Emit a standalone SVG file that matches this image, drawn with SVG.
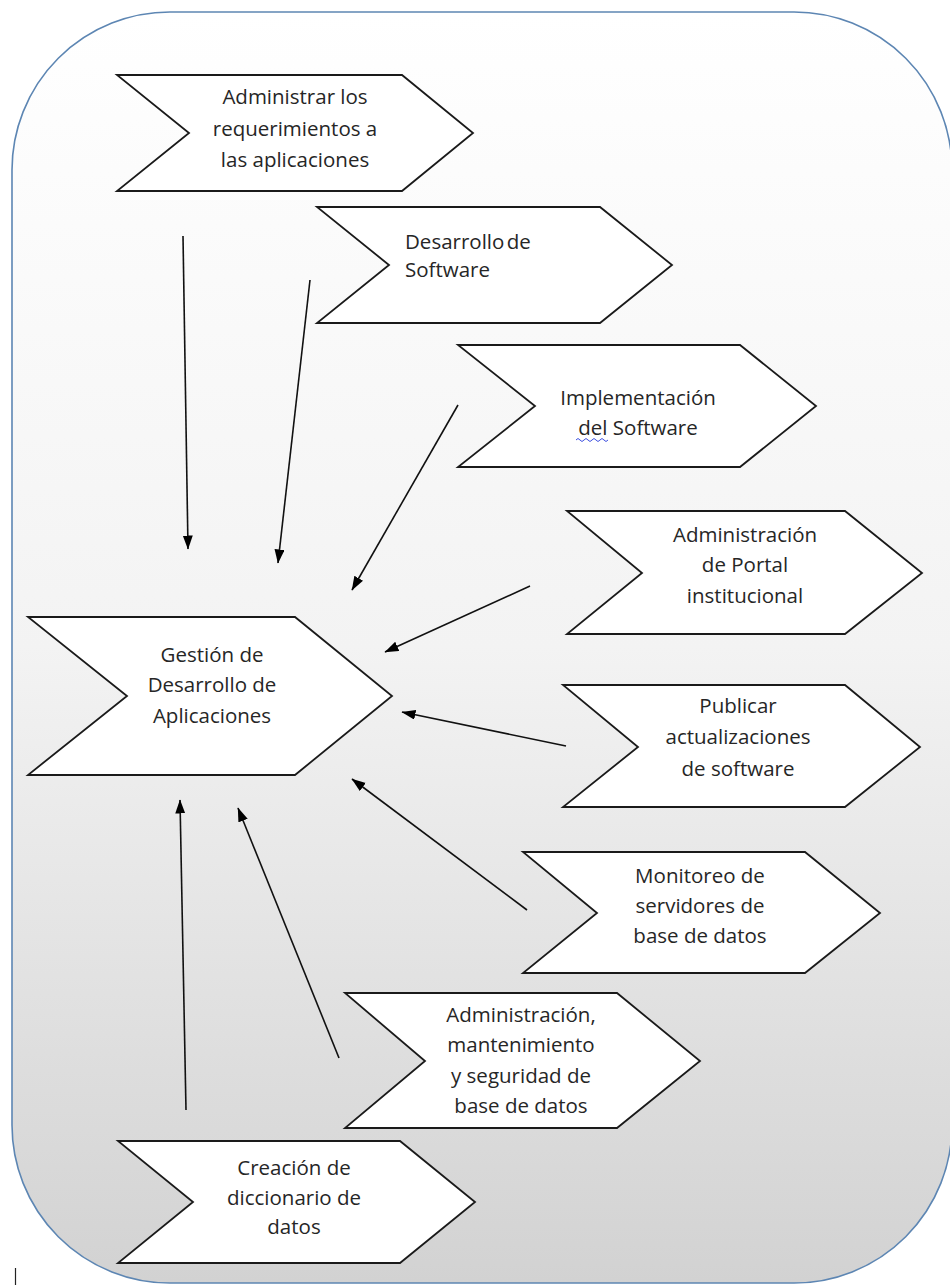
<svg xmlns="http://www.w3.org/2000/svg" width="950" height="1285" viewBox="0 0 950 1285">
  <defs>
    <linearGradient id="panelFill" x1="0" y1="0" x2="0" y2="1">
      <stop offset="0" stop-color="#ffffff"/>
      <stop offset="0.5" stop-color="#f3f3f3"/>
      <stop offset="1" stop-color="#d2d2d2"/>
    </linearGradient>
    <marker id="arrowHead" markerUnits="userSpaceOnUse" markerWidth="15" markerHeight="11" refX="13.5" refY="5" orient="auto">
      <path d="M0,0 L14,5 L0,10 z" fill="#000"/>
    </marker>
  </defs>
  <style>
    .chev { fill: #ffffff; stroke: #1a1a1a; stroke-width: 1.8; stroke-linejoin: miter; }
    .lbl { font-family: "Open Sans", "Liberation Sans", sans-serif; font-size: 20.5px; fill: #262626; text-anchor: middle; }
    .left { text-anchor: start; }
    .conn line { stroke: #111; stroke-width: 1.6; marker-end: url(#arrowHead); }
  </style>

  <!-- background panel -->
  <rect x="12" y="12" width="940" height="1271" rx="158" ry="158" fill="url(#panelFill)" stroke="#5d86b3" stroke-width="1.6"/>

  <!-- connectors -->
  <g id="connectors" class="conn">
    <line x1="183" y1="236" x2="188" y2="549"/>
    <line x1="310" y1="280" x2="278" y2="563"/>
    <line x1="458" y1="405" x2="352" y2="590"/>
    <line x1="530" y1="586" x2="385" y2="652"/>
    <line x1="566" y1="746" x2="402" y2="712"/>
    <line x1="527" y1="910" x2="352" y2="779"/>
    <line x1="339" y1="1058" x2="238" y2="808"/>
    <line x1="186" y1="1110" x2="180" y2="800"/>
  </g>

  <!-- nodes -->
  <g id="n-requerimientos">
    <polygon class="chev" points="117,75 402,75 473,133 402,191 117,191 189,133"/>
    <text class="lbl" x="295" y="104">Administrar los</text>
    <text class="lbl" x="295" y="136">requerimientos a</text>
    <text class="lbl" x="295" y="167">las aplicaciones</text>
  </g>

  <g id="n-desarrollo">
    <polygon class="chev" points="317,207 600,207 672,265 600,323 317,323 389,265"/>
    <text class="lbl left" x="405" y="249" word-spacing="-3">Desarrollo de</text>
    <text class="lbl left" x="405" y="277">Software</text>
  </g>

  <g id="n-implementacion">
    <polygon class="chev" points="458,345 740,345 816,406 740,467 458,467 535,406"/>
    <text class="lbl" x="638" y="405">Implementación</text>
    <text class="lbl" x="638" y="435">del Software</text>
    <path d="M576,440 q2,-3 4,0 t4,0 t4,0 t4,0 t4,0 t4,0 t4,0 t4,0" fill="none" stroke="#3d4fe0" stroke-width="1"/>
  </g>

  <g id="n-portal">
    <polygon class="chev" points="567,511 845,511 922,573 845,634 567,634 642,573"/>
    <text class="lbl" x="745" y="542">Administración</text>
    <text class="lbl" x="745" y="572">de Portal</text>
    <text class="lbl" x="745" y="603">institucional</text>
  </g>

  <g id="n-gestion">
    <polygon class="chev" points="28,617 295,617 392,696 295,775 28,775 127,696"/>
    <text class="lbl" x="212" y="662">Gestión de</text>
    <text class="lbl" x="212" y="692">Desarrollo de</text>
    <text class="lbl" x="212" y="723">Aplicaciones</text>
  </g>

  <g id="n-publicar">
    <polygon class="chev" points="563,685 845,685 920,747 845,807 563,807 638,747"/>
    <text class="lbl" x="738" y="713">Publicar</text>
    <text class="lbl" x="738" y="744">actualizaciones</text>
    <text class="lbl" x="738" y="776">de software</text>
  </g>

  <g id="n-monitoreo">
    <polygon class="chev" points="523,852 805,852 880,913 805,973 523,973 597,913"/>
    <text class="lbl" x="700" y="883">Monitoreo de</text>
    <text class="lbl" x="700" y="913">servidores de</text>
    <text class="lbl" x="700" y="943">base de datos</text>
  </g>

  <g id="n-basedatos">
    <polygon class="chev" points="345,993 617,993 700,1061 617,1128 345,1128 425,1061"/>
    <text class="lbl" x="521" y="1022">Administración,</text>
    <text class="lbl" x="521" y="1052">mantenimiento</text>
    <text class="lbl" x="521" y="1083">y seguridad de</text>
    <text class="lbl" x="521" y="1113">base de datos</text>
  </g>

  <g id="n-diccionario">
    <polygon class="chev" points="118,1141 400,1141 475,1202 400,1263 118,1263 193,1202"/>
    <text class="lbl" x="294" y="1175">Creación de</text>
    <text class="lbl" x="294" y="1205">diccionario de</text>
    <text class="lbl" x="294" y="1234">datos</text>
  </g>

  <!-- text cursor mark -->
  <line x1="15.5" y1="1268" x2="15.5" y2="1285" stroke="#222" stroke-width="1.2"/>
</svg>
